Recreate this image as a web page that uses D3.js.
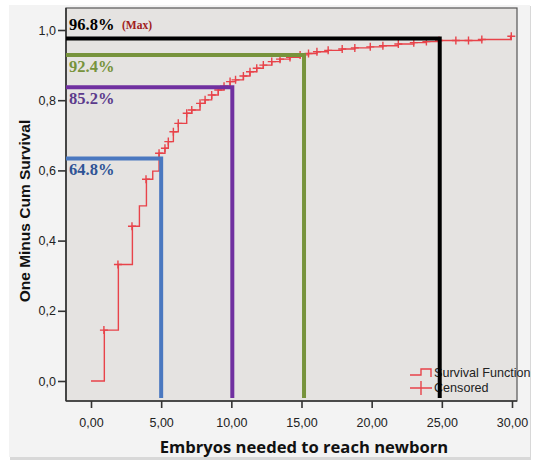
<!DOCTYPE html>
<html>
<head>
<meta charset="utf-8">
<script src="https://cdn.jsdelivr.net/npm/d3@7"></script>
<style>
  body { margin: 0; background: #fff; }
  svg { display: block; }
</style>
</head>
<body>
<div id="chart"></div>
<script>
// step points of the curve (time, one minus cum survival after the step)
var stepTimes = [0, 0.95, 1.95, 2.95, 3.45, 3.95, 4.4, 4.85, 5.27, 5.51, 5.87, 6.22, 6.82, 7.18, 7.77, 8.13,
  8.6, 9.07, 9.48, 9.91, 10.3, 10.86, 11.33, 11.81, 12.28, 12.88, 13.47, 14.18, 14.9, 15.5, 16.1, 16.9,
  17.9, 18.8, 19.9, 20.8, 21.9, 23.0, 23.9, 24.8, 27.85, 29.9];
var stepValues = [0, 0.145, 0.332, 0.441, 0.499, 0.575, 0.598, 0.649, 0.663, 0.682, 0.71, 0.734, 0.763, 0.772, 0.791, 0.801,
  0.815, 0.829, 0.84, 0.853, 0.858, 0.869, 0.881, 0.891, 0.9, 0.91, 0.917, 0.922, 0.929, 0.933, 0.938, 0.942,
  0.946, 0.949, 0.952, 0.955, 0.96, 0.964, 0.967, 0.97, 0.973, 0.982];
var endTime = 30;

// censored marks (times)
var censoredTimes = [0.92, 1.92, 2.92, 3.92, 4.85, 5.27, 5.51, 5.87, 6.22, 6.82, 7.18, 7.77, 8.13, 8.6, 9.07, 9.48, 9.91,
  10.3, 10.86, 11.33, 11.81, 12.28, 12.88, 13.47, 14.18, 14.9, 15.5, 16.1, 16.9, 17.9, 18.8, 19.9, 20.8, 21.9,
  23.0, 23.9, 24.8, 26.0, 26.9, 27.85, 29.95];

// hand drawn reference lines
var refX = [5.0, 10.07, 15.18, 24.85];
var refY = [0.634, 0.837, 0.929, 0.976];
var refLabels = ["64.8%", "85.2%", "92.4%", "96.8%"];
var refColors = ["#4a78c0", "#7030a0", "#77933c", "#000000"];
var refTextColors = ["#2f5496", "#5c3b8c", "#77933c", "#000000"];

var xTicks = [0, 5, 10, 15, 20, 25, 30];
var xTickLabels = ["0,00", "5,00", "10,00", "15,00", "20,00", "25,00", "30,00"];
var yTicks = [0, 0.2, 0.4, 0.6, 0.8, 1.0];
var yTickLabels = ["0,0", "0,2", "0,4", "0,6", "0,8", "1,0"];

var W = 540, H = 466;
var frame = {l: 66, t: 8, r: 517, b: 401};
var red = '#e8434a';

var svg = d3.select('#chart').append('svg').attr('width', W).attr('height', H);

svg.append('rect')//outer panel shadow
  .attr('x', 10).attr('y', 6).attr('width', 521).attr('height', 454)
  .attr('fill', '#d8d8d8');
svg.append('rect')//outer panel
  .attr('x', 9).attr('y', 5).attr('width', 521).attr('height', 452)
  .attr('fill', '#f3f3f3');

svg.append('rect')//plot area
  .attr('x', frame.l).attr('y', frame.t)
  .attr('width', frame.r - frame.l).attr('height', frame.b - frame.t)
  .attr('fill', '#e5e3e1')
  .attr('stroke', '#555').attr('stroke-width', 1.2);

var x = d3.scaleLinear().domain([0, 30]).range([91, 512]);
var y = d3.scaleLinear().domain([0, 1]).range([381, 30]);

// axes
var xAxis = d3.axisBottom(x).tickValues(xTicks).tickSize(7).tickSizeOuter(0)
  .tickFormat(function(d, i){ return xTickLabels[i]; });
var gx = svg.append('g').attr('transform', 'translate(0,' + frame.b + ')').call(xAxis);
gx.select('.domain').attr('d', 'M' + frame.l + ',0H' + frame.r).attr('stroke', '#333').attr('stroke-width', 1.6);

var yAxis = d3.axisLeft(y).tickValues(yTicks).tickSize(8).tickSizeOuter(0)
  .tickFormat(function(d, i){ return yTickLabels[i]; });
var gy = svg.append('g').attr('transform', 'translate(' + frame.l + ',0)').call(yAxis);
gy.select('.domain').attr('d', 'M0,' + frame.t + 'V' + frame.b).attr('stroke', '#333').attr('stroke-width', 1.6);

svg.selectAll('.tick line').attr('stroke', '#333').attr('stroke-width', 1.6);
svg.selectAll('.tick text')
  .attr('font-family', 'Liberation Sans, Arial, sans-serif')
  .attr('font-size', 12.5)
  .attr('fill', '#222');
gx.selectAll('.tick text').attr('dy', '1.25em');
gy.selectAll('.tick text').attr('x', -10);

// axis titles
svg.append('text')
  .attr('x', 304).attr('y', 453)
  .attr('text-anchor', 'middle')
  .attr('font-family', 'Open Sans, sans-serif')
  .attr('font-weight', 'bold')
  .attr('font-size', 16.6)
  .attr('fill', '#111')
  .text('Embryos needed to reach newborn');

svg.append('text')
  .attr('transform', 'translate(30,211) rotate(-90)')
  .attr('text-anchor', 'middle')
  .attr('font-family', 'Liberation Sans, Arial, sans-serif')
  .attr('font-weight', 'bold')
  .attr('font-size', 15.5)
  .attr('fill', '#111')
  .text('One Minus Cum Survival');

// legend
var leg = svg.append('g').attr('transform', 'translate(410,0)');
leg.append('path')
  .attr('d', 'M0,375H11V369H21V377')
  .attr('fill', 'none').attr('stroke', red).attr('stroke-width', 1.4);
leg.append('path')
  .attr('d', 'M0,388H22M11,381V395')
  .attr('fill', 'none').attr('stroke', red).attr('stroke-width', 1.4);
leg.append('text').attr('x', 24).attr('y', 377).text('Survival Function');
leg.append('text').attr('x', 24).attr('y', 392).text('Censored');
leg.selectAll('text')
  .attr('font-family', 'Liberation Sans, Arial, sans-serif')
  .attr('font-size', 12.6)
  .attr('fill', '#222');

// survival step curve
var pts = stepTimes.map(function(t, i){ return [t, stepValues[i]]; });
pts.push([endTime, stepValues[stepValues.length - 1]]);
var line = d3.line()
  .x(function(d){ return x(d[0]); })
  .y(function(d){ return y(d[1]); })
  .curve(d3.curveStepAfter);
svg.append('path')
  .datum(pts)
  .attr('d', line)
  .attr('fill', 'none')
  .attr('stroke', red)
  .attr('stroke-width', 1.4);

function valueAt(t){
  var v = 0;
  for (var i = 0; i < stepTimes.length; i++){
    if (stepTimes[i] <= t + 0.06) v = stepValues[i];
  }
  return v;
}

svg.selectAll('.cens')
  .data(censoredTimes)
  .enter().append('path')
  .attr('class', 'cens')
  .attr('d', function(t){
    var cx = x(t), cy = y(valueAt(t));
    return 'M' + (cx - 4) + ',' + cy + 'H' + (cx + 4) + 'M' + cx + ',' + (cy - 4) + 'V' + (cy + 4);
  })
  .attr('stroke', red)
  .attr('stroke-width', 1.4);

// reference lines
var bottomY = frame.b - 3;
refX.forEach(function(rx, i){
  svg.append('path')
    .attr('d', 'M' + frame.l + ',' + y(refY[i]) + 'H' + x(rx) + 'V' + bottomY)
    .attr('fill', 'none')
    .attr('stroke', refColors[i])
    .attr('stroke-width', 4);
});

refLabels.forEach(function(lab, i){
  var top = i == refLabels.length - 1;
  svg.append('text')
    .attr('x', 69)
    .attr('y', top ? y(refY[i]) - 8 : y(refY[i]) + 17)
    .attr('font-family', 'Liberation Serif, Times New Roman, serif')
    .attr('font-weight', 'bold')
    .attr('font-size', 16.5)
    .attr('fill', refTextColors[i])
    .text(lab);
});

svg.append('text')
  .attr('x', 122).attr('y', y(refY[3]) - 9)
  .attr('font-family', 'Liberation Serif, Times New Roman, serif')
  .attr('font-weight', 'bold')
  .attr('font-size', 11.5)
  .attr('fill', '#a0201c')
  .text('(Max)');
</script>
</body>
</html>
